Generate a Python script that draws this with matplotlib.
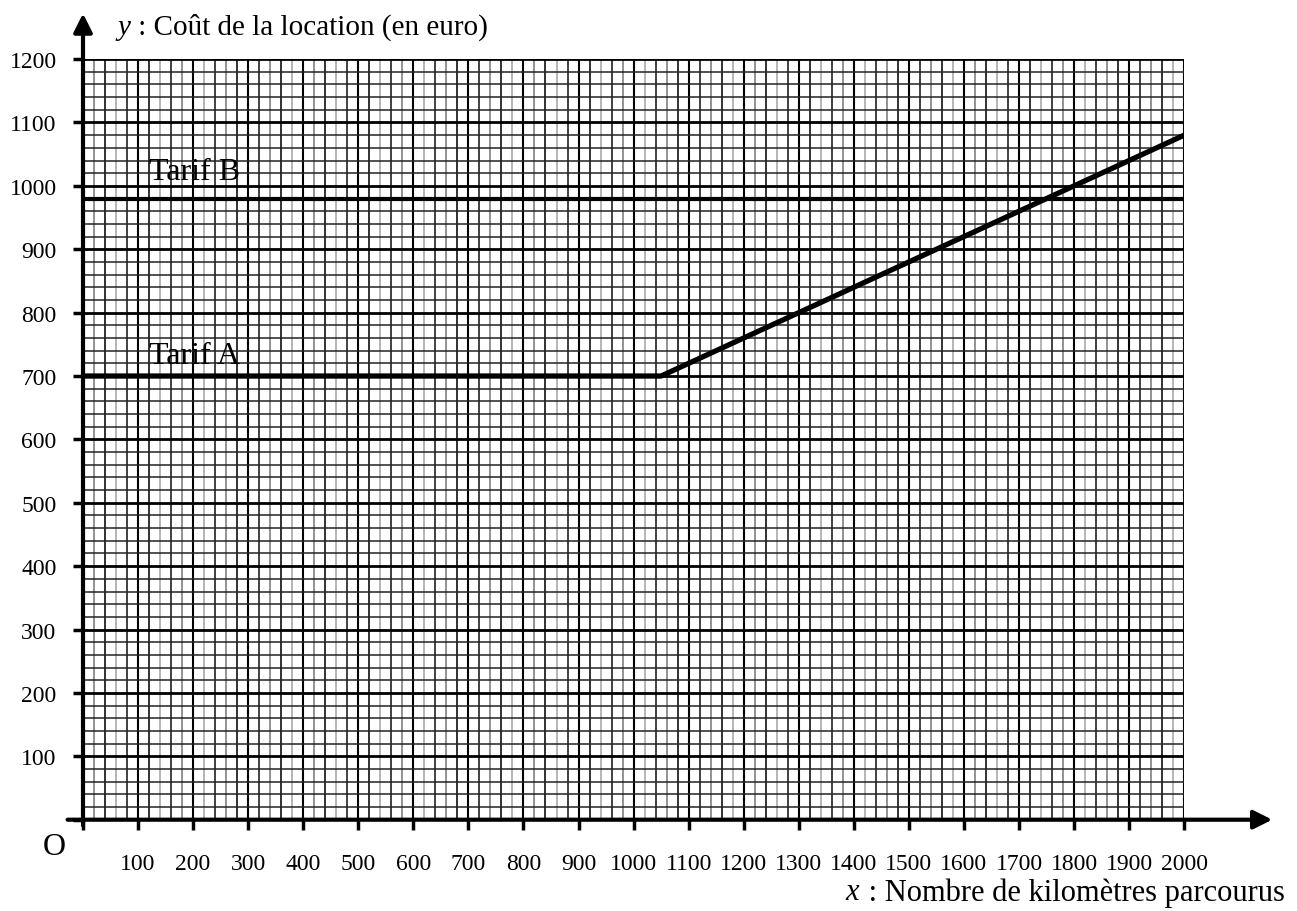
import numpy as np
import matplotlib.pyplot as plt

# tarifs (euro) vs kilometres
tarif_a_km = [0, 1050, 2000]
tarif_a_cost = [700, 700, 1080]
tarif_b_km = [0, 2000]
tarif_b_cost = [980, 980]

x_ticks = list(range(100, 2001, 100))
y_ticks = list(range(100, 1201, 100))

plt.rcParams['font.family'] = ['Liberation Serif', 'DejaVu Serif']

fig = plt.figure(figsize=(12.97, 9.12), dpi=100)
ax = fig.add_axes([0.064, 0.1001, 0.849, 0.834])
ax.set_xlim(0, 2000)
ax.set_ylim(0, 1200)

# millimetre paper grid
for i, xv in enumerate(range(20, 2001, 20)):
    if xv % 100 == 0:
        ax.axvline(xv, color='black', lw=1.5, zorder=1)
    else:
        c = ['#8a8a8a', '#222222', '#b0b0b0', '#333333'][i % 4]
        ax.axvline(xv, color=c, lw=1.3, zorder=1)
for yv in range(20, 1201, 20):
    if yv % 100 == 0:
        ax.axhline(yv, color='black', lw=2.0, zorder=1)
    else:
        ax.axhline(yv, color='#222222', lw=1.1, zorder=1)

ax.plot(tarif_b_km, tarif_b_cost, color='black', lw=3.0, zorder=3, solid_capstyle='butt')
ax.plot(tarif_a_km, tarif_a_cost, color='black', lw=3.8, zorder=3, solid_capstyle='butt')

ax.text(120, 1000, 'Tarif B', fontsize=23, ha='left', va='bottom', zorder=4)
ax.text(120, 710, 'Tarif A', fontsize=23, ha='left', va='bottom', zorder=4)

for s in ax.spines.values():
    s.set_visible(False)

ax.set_xticks([0] + x_ticks)
ax.set_xticklabels([''] + [str(v) for v in x_ticks])
ax.set_yticks([0] + y_ticks)
ax.set_yticklabels([''] + [str(v) for v in y_ticks])
ax.tick_params(axis='both', length=7, width=2.5, direction='out', labelsize=17)
ax.tick_params(axis='x', pad=17)
ax.tick_params(axis='y', pad=12)

# axes with arrows
ax.annotate('', xy=(2160, 0), xytext=(-28, 0), annotation_clip=False,
            arrowprops=dict(arrowstyle='-|>', lw=3, color='black', mutation_scale=28,
                            shrinkA=0, shrinkB=0))
ax.annotate('', xy=(0, 1272), xytext=(0, -9), annotation_clip=False,
            arrowprops=dict(arrowstyle='-|>', lw=3, color='black', mutation_scale=28,
                            shrinkA=0, shrinkB=0))

ax.text(-53, -42, 'O', fontsize=23, ha='center', va='center')
ax.text(62, 1251, 'y', fontsize=21, fontstyle='italic', ha='left', va='center')
ax.text(88, 1251, ' : Coût de la location (en euro)', fontsize=21, ha='left', va='center')
ax.annotate(' : Nombre de kilomètres parcourus', xy=(2183, -114), xycoords='data',
            fontsize=22, ha='right', va='center', annotation_clip=False)
ax.annotate('x', xy=(1410, -114), xycoords='data', fontsize=22, fontstyle='italic',
            ha='right', va='center', annotation_clip=False)

fig.savefig('out.png', dpi=100)
